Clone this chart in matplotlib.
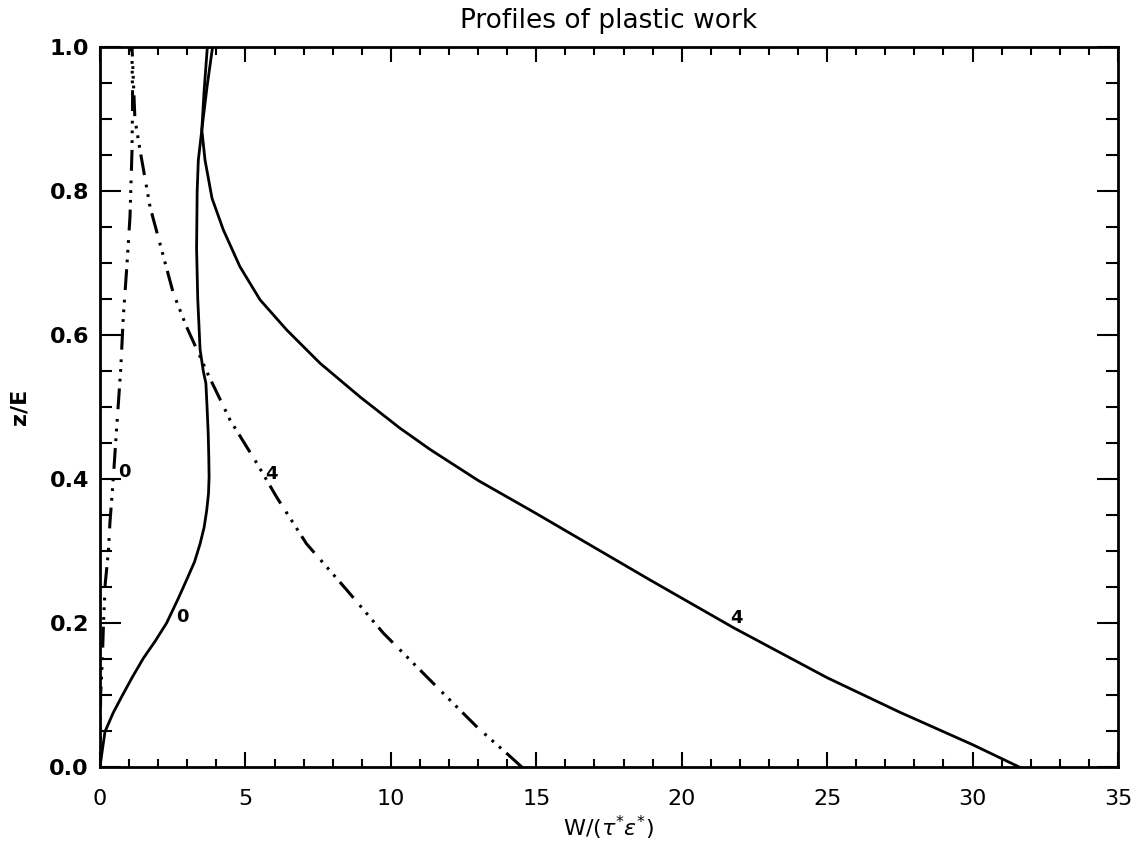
import matplotlib
matplotlib.use("Agg")
import matplotlib.pyplot as plt
from matplotlib.ticker import MultipleLocator

plt.rcParams['font.family'] = ['DejaVu Sans']
plt.rcParams['lines.scale_dashes'] = False
plt.rcParams['mathtext.fontset'] = 'dejavusans'

# perfis de trabalho plastico: W/(tau* eps*) em funcao de z/E
# curva solida, caso 0
w_sol0 = [0.0, 0.05, 0.17, 0.45, 0.75, 1.1, 1.49, 1.9, 2.29, 2.69, 3.0, 3.25, 3.44, 3.58, 3.67,
          3.73, 3.75, 3.74, 3.72, 3.68, 3.64, 3.55, 3.44, 3.36, 3.32, 3.34, 3.38, 3.5, 3.68, 3.87]
z_sol0 = [0.0, 0.015, 0.049, 0.075, 0.098, 0.124, 0.151, 0.175, 0.2, 0.234, 0.262, 0.285, 0.31,
          0.333, 0.357, 0.38, 0.403, 0.43, 0.463, 0.5, 0.533, 0.55, 0.58, 0.65, 0.72, 0.8,
          0.843, 0.885, 0.945, 1.0]

# curva solida, caso 4
w_sol4 = [31.6, 30.0, 27.5, 25.0, 21.8, 18.9, 15.0, 13.0, 11.35, 10.3, 8.94, 7.56, 6.42, 5.5,
          4.81, 4.24, 3.85, 3.61, 3.5, 3.58, 3.69]
z_sol4 = [0.0, 0.031, 0.076, 0.124, 0.193, 0.26, 0.352, 0.398, 0.441, 0.471, 0.514, 0.561, 0.607,
          0.649, 0.695, 0.746, 0.79, 0.843, 0.885, 0.94, 1.0]

# curva tracejada, caso 0
w_dash0 = [0.0, 0.02, 0.08, 0.12, 0.18, 0.29, 0.34, 0.46, 0.57, 0.71, 0.8, 0.92, 1.03,
           1.1, 1.12, 1.1, 1.02]
z_dash0 = [0.0, 0.1, 0.15, 0.2, 0.255, 0.3, 0.339, 0.403, 0.47, 0.551, 0.625, 0.694, 0.764,
           0.857, 0.93, 0.985, 1.0]

# curva tracejada, caso 4
w_dash4 = [14.5, 13.98, 13.0, 12.03, 9.74, 8.48, 7.1, 6.07, 5.39, 4.47, 3.67, 3.44, 2.98,
           2.52, 2.12, 1.72, 1.375, 1.2, 1.15, 1.1]
z_dash4 = [0.0, 0.019, 0.054, 0.093, 0.186, 0.246, 0.31, 0.375, 0.422, 0.482, 0.549, 0.57, 0.611,
           0.658, 0.718, 0.778, 0.857, 0.9, 0.95, 1.0]

# rotulos das curvas (texto, W, z)
rotulos = [('0', 0.84, 0.41), ('4', 5.91, 0.407), ('0', 2.82, 0.208), ('4', 21.87, 0.207)]

fig = plt.figure(figsize=(11.34, 8.46), dpi=100)
ax = fig.add_axes([0.0882, 0.0934, 0.8977, 0.851])

traco = (0, (15, 5, 2, 5, 2, 5, 2, 7))
ax.plot(w_sol0, z_sol0, color='black', lw=2.0)
ax.plot(w_sol4, z_sol4, color='black', lw=2.0)
ax.plot(w_dash0, z_dash0, color='black', lw=2.2, linestyle=traco)
ax.plot(w_dash4, z_dash4, color='black', lw=2.2, linestyle=traco)

for txt, w, z in rotulos:
    ax.text(w, z, txt, fontsize=13, fontweight='bold', ha='center', va='center')

ax.set_xlim(0, 35)
ax.set_ylim(0, 1.0)
ax.xaxis.set_major_locator(MultipleLocator(5))
ax.xaxis.set_minor_locator(MultipleLocator(1))
ax.yaxis.set_major_locator(MultipleLocator(0.2))
ax.yaxis.set_minor_locator(MultipleLocator(0.05))
ax.yaxis.set_major_formatter(plt.FormatStrFormatter('%.1f'))

for s in ax.spines.values():
    s.set_linewidth(2.0)

ax.tick_params(axis='x', which='major', direction='in', length=11, width=1.5,
               top=True, labelsize=16, pad=16)
ax.tick_params(axis='x', which='minor', direction='in', length=6, width=1.5, top=True)
ax.tick_params(axis='y', which='major', direction='in', length=15, width=1.5,
               right=True, labelsize=16, pad=8)
ax.tick_params(axis='y', which='minor', direction='in', length=8.5, width=1.5, right=True)
for lbl in ax.get_yticklabels():
    lbl.set_fontweight('bold')

ax.set_title('Profiles of plastic work', fontsize=19, pad=14)
ax.set_xlabel(r'W/($\tau^{*}\epsilon^{*}$)', fontsize=16, labelpad=3)
ax.set_ylabel('z/E', fontsize=16, fontweight='bold', labelpad=14)

fig.savefig('out.png', dpi=100)
